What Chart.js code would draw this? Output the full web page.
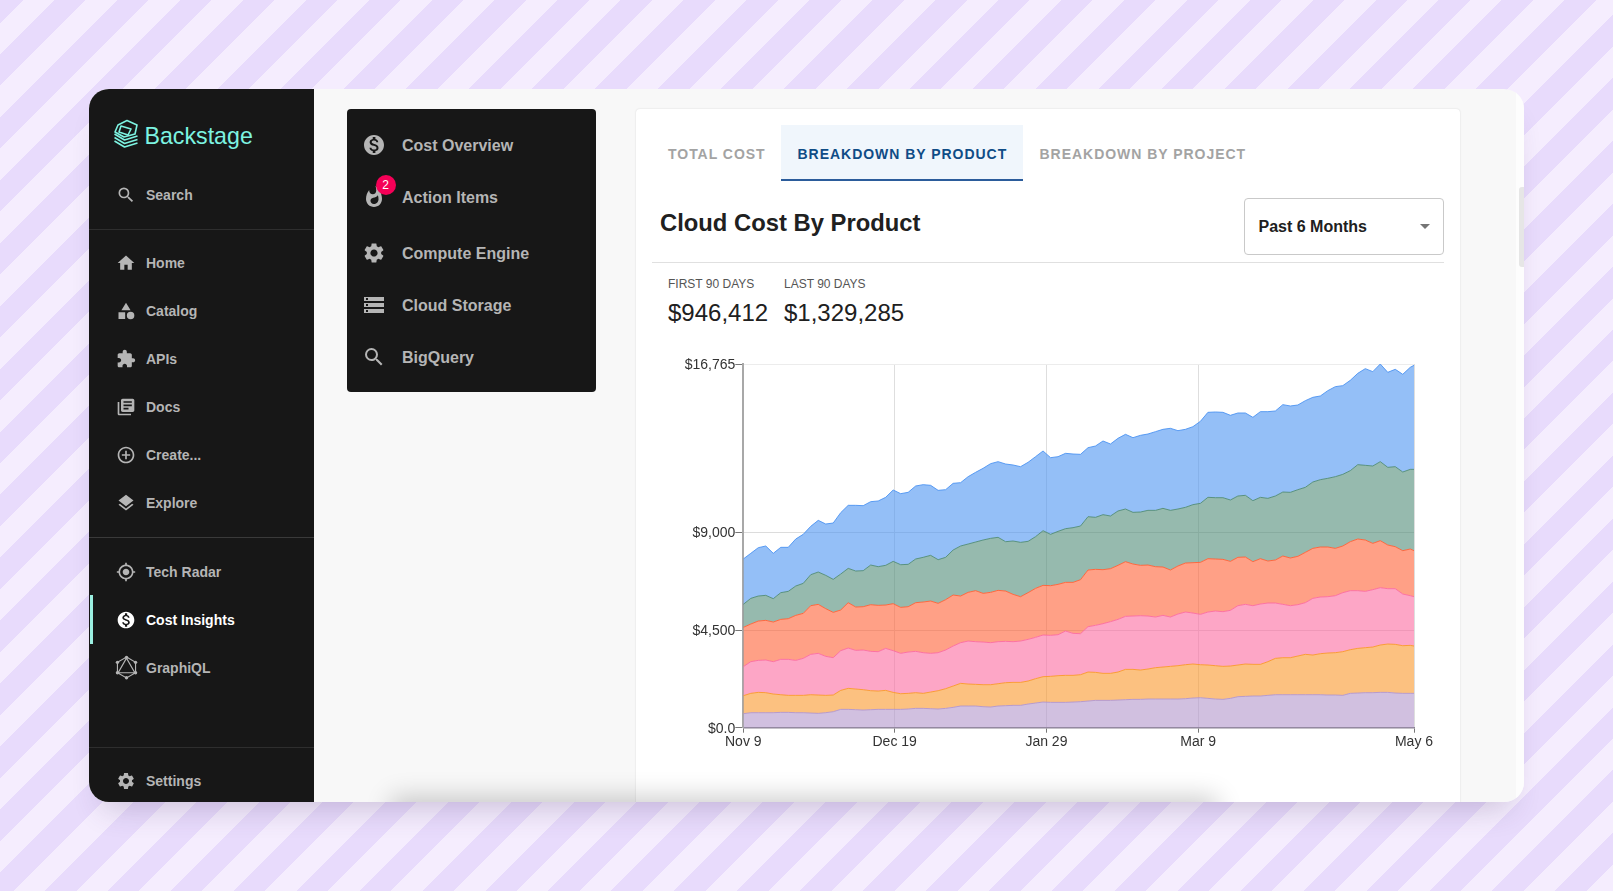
<!DOCTYPE html>
<html>
<head>
<meta charset="utf-8">
<title>Cloud Cost By Product</title>
<script src="https://cdn.jsdelivr.net/npm/chart.js@4"></script>
<style>
  html, body { margin: 0; height: 100%; overflow: hidden; }
  body {
    font-family: "Liberation Sans", Arial, sans-serif;
    background: repeating-linear-gradient(135deg, #e8dbfc 0 16.3px, #f5edfe 16.3px 38.5px, #e8dbfc 38.5px 44.5px);
  }
  .abs { position: absolute; white-space: nowrap; }
  #shadow { position: absolute; left: 89px; top: 89px; width: 1434.5px; height: 712.5px; border-radius: 20px; box-shadow: 0 20px 30px -14px rgba(70, 50, 100, .24); }
  #window { position: absolute; left: 89px; top: 89px; width: 1434.5px; height: 712.5px; border-radius: 20px; overflow: hidden; background: #f8f8f8; }
  #bar { position: absolute; left: 0; top: 0; width: 225px; height: 100%; background: #171717; }
  #fade { position: absolute; left: 310px; top: 716px; width: 810px; height: 20px; box-shadow: 0 0 26px 8px rgba(0, 0, 0, .2); z-index: 3; }
  #card { position: absolute; left: 547px; top: 20px; width: 824px; height: 720px; background: #fff; border-radius: 4px; box-shadow: 0 0 2px rgba(0,0,0,.14); }
  #sub { position: absolute; left: 258px; top: 20px; width: 249px; height: 283px; background: #171717; border-radius: 4px; }
  #track { position: absolute; left: 1427px; top: 0; width: 8px; height: 100%; background: #fdfdfd; }
  #scroll { position: absolute; left: 1429.5px; top: 98px; width: 5px; height: 80px; background: #e6e6e6; border-radius: 3px 0 0 3px; }
  .nav { font-size: 14px; font-weight: 700; color: #b5b5b5; transform: translateY(-50%); }
  .subnav { font-size: 16px; font-weight: 700; color: #b5b5b5; transform: translateY(-50%); }
  svg.icon { position: absolute; fill: #b5b5b5; }
  .tab { font-size: 14px; font-weight: 700; letter-spacing: .97px; color: #a3a3a3; transform: translateY(-50%); }
  canvas { position: absolute; left: 640px; top: 340px; }
</style>
</head>
<body>
<div id="shadow"></div>
<div id="window">
  <div id="bar"></div>
  <div id="sub"></div>
  <div id="card"></div>
  <div id="track"></div>
  <div id="scroll"></div>
  <div id="fade"></div>
</div>
<div id="ui"></div>
<div style="position:absolute;left:0;top:0;width:1613px;height:891px"><canvas id="chart" width="800" height="420" style="width:800px;height:420px"></canvas></div>

<script>
// icon paths
const ICONS = {
  search: 'M15.5 14h-.79l-.28-.27A6.471 6.471 0 0 0 16 9.5 6.5 6.5 0 1 0 9.5 16c1.61 0 3.09-.59 4.23-1.57l.27.28v.79l5 4.99L20.49 19l-4.99-5zm-6 0C7.01 14 5 11.99 5 9.5S7.01 5 9.5 5 14 7.01 14 9.5 11.99 14 9.5 14z',
  home: 'M10 20v-6h4v6h5v-8h3L12 3 2 12h3v8z',
  category: 'M12 2l-5.5 9h11zM17.5 13a4.5 4.5 0 1 0 0 9 4.5 4.5 0 0 0 0-9zM3 13.5h8v8H3z',
  puzzle: 'M20.5 11H19V7c0-1.1-.9-2-2-2h-4V3.5C13 2.12 11.88 1 10.5 1S8 2.12 8 3.5V5H4c-1.1 0-1.99.9-1.99 2v3.8H3.5c1.49 0 2.7 1.21 2.7 2.7s-1.21 2.7-2.7 2.7H2V20c0 1.1.9 2 2 2h3.8v-1.5c0-1.49 1.21-2.7 2.7-2.7 1.49 0 2.7 1.21 2.7 2.7V22H17c1.1 0 2-.9 2-2v-4h1.5c1.38 0 2.5-1.12 2.5-2.5S21.88 11 20.5 11z',
  docs: 'M4 6H2v14c0 1.1.9 2 2 2h14v-2H4V6zm16-4H8c-1.1 0-2 .9-2 2v12c0 1.1.9 2 2 2h12c1.1 0 2-.9 2-2V4c0-1.1-.9-2-2-2zm-1 9H9V9h10v2zm-4 4H9v-2h6v2zm4-8H9V5h10v2z',
  add: 'M13 7h-2v4H7v2h4v4h2v-4h4v-2h-4V7zm-1-5C6.48 2 2 6.48 2 12s4.48 10 10 10 10-4.48 10-10S17.52 2 12 2zm0 18c-4.41 0-8-3.59-8-8s3.59-8 8-8 8 3.59 8 8-3.59 8-8 8z',
  layers: 'M11.99 18.54l-7.37-5.73L3 14.07l9 7 9-7-1.63-1.27-7.38 5.74zM12 16l7.36-5.73L21 9l-9-7-9 7 1.63 1.27L12 16z',
  radar: 'M12 8c-2.21 0-4 1.79-4 4s1.79 4 4 4 4-1.79 4-4-1.79-4-4-4zm8.94 3c-.46-4.17-3.77-7.48-7.94-7.94V1h-2v2.06C6.83 3.52 3.52 6.83 3.06 11H1v2h2.06c.46 4.17 3.77 7.48 7.94 7.94V23h2v-2.06c4.17-.46 7.48-3.77 7.94-7.94H23v-2h-2.06zM12 19c-3.87 0-7-3.13-7-7s3.13-7 7-7 7 3.13 7 7-3.13 7-7 7z',
  dollar: 'M12 2C6.48 2 2 6.48 2 12s4.48 10 10 10 10-4.48 10-10S17.52 2 12 2zm1.41 16.09V20h-2.67v-1.93c-1.71-.36-3.16-1.46-3.27-3.4h1.96c.1 1.05.82 1.87 2.65 1.87 1.96 0 2.4-.98 2.4-1.59 0-.83-.44-1.61-2.67-2.14-2.48-.6-4.18-1.62-4.18-3.67 0-1.72 1.39-2.84 3.11-3.21V4h2.67v1.95c1.86.45 2.79 1.86 2.85 3.39H14.3c-.05-1.11-.64-1.87-2.22-1.87-1.5 0-2.4.68-2.4 1.64 0 .84.65 1.39 2.67 1.91s4.18 1.39 4.18 3.91c-.01 1.83-1.38 2.83-3.12 3.16z',
  graphql: 'M12 2l8.7 5v10L12 22l-8.7-5V7zM12 3L4 17h16z',
  gear: 'M19.14 12.94c.04-.3.06-.61.06-.94 0-.32-.02-.64-.07-.94l2.03-1.58c.18-.14.23-.41.12-.61l-1.92-3.32c-.12-.22-.37-.29-.59-.22l-2.39.96c-.5-.38-1.03-.7-1.62-.94l-.36-2.54c-.04-.24-.24-.41-.48-.41h-3.84c-.24 0-.43.17-.47.41l-.36 2.54c-.59.24-1.13.57-1.62.94l-2.39-.96c-.22-.08-.47 0-.59.22L2.74 8.87c-.12.21-.08.47.12.61l2.03 1.58c-.05.3-.09.63-.09.94s.02.64.07.94l-2.03 1.58c-.18.14-.23.41-.12.61l1.92 3.32c.12.22.37.29.59.22l2.39-.96c.5.38 1.03.7 1.62.94l.36 2.54c.05.24.24.41.48.41h3.84c.24 0 .44-.17.47-.41l.36-2.54c.59-.24 1.13-.56 1.62-.94l2.39.96c.22.08.47 0 .59-.22l1.92-3.32c.12-.22.07-.47-.12-.61l-2.01-1.58zM12 15.6c-1.98 0-3.6-1.62-3.6-3.6s1.62-3.6 3.6-3.6 3.6 1.62 3.6 3.6-1.62 3.6-3.6 3.6z',
  flame: 'M13.5.67s.74 2.65.74 4.8c0 2.06-1.35 3.73-3.41 3.73-2.07 0-3.63-1.67-3.63-3.73l.03-.36C5.21 7.51 4 10.62 4 14c0 4.42 3.58 8 8 8s8-3.58 8-8C20 8.61 17.41 3.8 13.5.67zM11.71 19c-1.78 0-3.22-1.4-3.22-3.14 0-1.62 1.05-2.76 2.81-3.12 1.77-.36 3.6-1.21 4.62-2.58.39 1.29.59 2.65.59 4.04 0 2.65-2.15 4.8-4.8 4.8z',
  storage: 'M2 20h20v-4H2v4zm2-3h2v2H4v-2zM2 4v4h20V4H2zm4 3H4V5h2v2zm-4 7h20v-4H2v4zm2-3h2v2H4v-2z'
};

// sidebar text: label, icon, y
const navItems = [
  ['Search', 'search', 195], ['Home', 'home', 263], ['Catalog', 'category', 311],
  ['APIs', 'puzzle', 359], ['Docs', 'docs', 407], ['Create...', 'add', 455],
  ['Explore', 'layers', 503], ['Tech Radar', 'radar', 571.5], ['Cost Insights', 'dollar', 619.5],
  ['GraphiQL', 'graphql', 667.5], ['Settings', 'gear', 781]
];
const subItems = [
  ['Cost Overview', 'dollar', 145.5], ['Action Items', 'flame', 197.5], ['Compute Engine', 'gear', 253.5],
  ['Cloud Storage', 'storage', 305.5], ['BigQuery', 'search', 357.5]
];

const ui = document.getElementById('ui');
function addText(text, x, y, cls, css) {
  const el = document.createElement('div');
  el.className = 'abs ' + (cls || '');
  el.textContent = text;
  el.style.cssText += 'left:' + x + 'px;top:' + y + 'px;' + (css || '');
  ui.appendChild(el);
  return el;
}
function addBox(x, y, w, h, css) {
  const el = document.createElement('div');
  el.style.cssText = 'position:absolute;left:' + x + 'px;top:' + y + 'px;width:' + w + 'px;height:' + h + 'px;' + css;
  ui.appendChild(el);
}
function addIcon(name, cx, cy, size, color) {
  const s = document.createElementNS('http://www.w3.org/2000/svg', 'svg');
  s.setAttribute('viewBox', '0 0 24 24');
  s.setAttribute('class', 'icon');
  s.style.cssText = 'left:' + (cx - size / 2) + 'px;top:' + (cy - size / 2) + 'px;width:' + size + 'px;height:' + size + 'px;' + (color ? 'fill:' + color : '');
  const p = document.createElementNS('http://www.w3.org/2000/svg', 'path');
  p.setAttribute('d', ICONS[name]);
  if (name === 'graphql') {
    p.setAttribute('fill', 'none'); p.setAttribute('stroke', '#b5b5b5'); p.setAttribute('stroke-width', '1.1');
    s.innerHTML = '<circle cx="12" cy="2.2" r="1.6"/><circle cx="20.7" cy="7" r="1.6"/><circle cx="20.7" cy="17" r="1.6"/><circle cx="12" cy="21.8" r="1.6"/><circle cx="3.3" cy="17" r="1.6"/><circle cx="3.3" cy="7" r="1.6"/>';
  }
  s.appendChild(p);
  ui.appendChild(s);
}

navItems.forEach(([label, icon, y]) => {
  const on = label === 'Cost Insights';
  addIcon(icon, 126, y, icon === 'graphql' ? 25 : 20, on ? '#fff' : null);
  addText(label, 146, y, 'nav', on ? 'color:#fff' : '');
});
subItems.forEach(([label, icon, y]) => {
  addIcon(icon, 374, y - 1, 24);
  addText(label, 402, y, 'subnav');
});

// logo
const logo = document.createElementNS('http://www.w3.org/2000/svg', 'svg');
logo.setAttribute('style', 'position:absolute;left:113px;top:119px;width:26px;height:31px');
logo.setAttribute('viewBox', '0 0 26 31');
logo.innerHTML = '<g fill="none" stroke="#7df3e1" stroke-width="1.6" stroke-linejoin="round"><path d="M14 1.5l10 4.5-2 9-11 3-9-5 3-7z"/><path d="M8 7l10 3-3 6-9-3z"/><path d="M1.5 15l10 6 13-4M1.5 18.5l10 6 13-4M1.5 22l10 6 13-4"/></g>';
ui.appendChild(logo);
addText('Backstage', 144.5, 136, '', 'font-size:23.2px;color:#7df3e1;transform:translateY(-50%)');

// dividers, active bar, badge
addBox(89, 229, 225, 1, 'background:#2e2e2e');
addBox(89, 537, 225, 1, 'background:#3a3a3a');
addBox(89, 746.5, 225, 1, 'background:#2e2e2e');
addBox(90, 595, 3, 49, 'background:#9bf0e1');
addBox(375.5, 175, 20, 20, 'background:#f50057;border-radius:50%');
addText('2', 385.5, 185, '', 'font-size:12px;color:#fff;transform:translate(-50%,-50%)');

// tabs
addBox(781, 125, 242, 56, 'background:#f0f6fc');
addBox(781, 179, 242, 2, 'background:#2b5c9b');
addText('TOTAL COST', 668, 153.5, 'tab');
addText('BREAKDOWN BY PRODUCT', 797.5, 153.5, 'tab', 'color:#0f4c86');
addText('BREAKDOWN BY PROJECT', 1039.5, 153.5, 'tab');

// heading row
addText('Cloud Cost By Product', 660, 223, '', 'font-size:23.8px;font-weight:700;color:#202020;transform:translateY(-50%)');
addBox(1244, 197.5, 198, 55, 'border:1px solid #c9c9c9;border-radius:4px;background:#fff');
addText('Past 6 Months', 1258.5, 226.5, '', 'font-size:16px;font-weight:700;color:#202020;transform:translateY(-50%)');
addBox(1420, 224, 0, 0, 'border-left:5px solid transparent;border-right:5px solid transparent;border-top:5px solid #757575');
addBox(652, 262, 791.5, 1, 'background:#e0e0e0');

// stats
addText('FIRST 90 DAYS', 668, 284, '', 'font-size:12px;color:#555;transform:translateY(-50%)');
addText('LAST 90 DAYS', 784, 284, '', 'font-size:12px;color:#555;transform:translateY(-50%)');
addText('$946,412', 668, 313, '', 'font-size:24px;color:#202020;transform:translateY(-50%)');
addText('$1,329,285', 784, 313, '', 'font-size:24px;color:#202020;transform:translateY(-50%)');

// chart data: day since Nov 9 and the top edge of each stacked band ($)
const days = [0,2,4,6,8,10,12,14,16,18,20,22,24,26,28,30,32,34,36,38,40,42,44,46,48,50,52,54,56,58,60,62,64,66,68,70,72,74,76,78,80,82,84,86,88,90,92,94,96,98,100,102,104,106,108,110,112,114,116,118,120,122,124,126,128,130,132,134,136,138,140,142,144,146,148,150,152,154,156,158,160,162,164,166,168,170,172,174,176,178,179];
const purpleTop = [645,692,692,692,692,707,707,692,692,676,661,692,738,845,845,830,814,830,845,845,845,845,861,891,891,876,861,891,937,999,999,999,968,953,999,1014,1030,1030,1091,1137,1183,1168,1168,1168,1183,1199,1229,1260,1260,1260,1275,1291,1306,1306,1322,1322,1322,1322,1322,1337,1368,1383,1352,1322,1306,1352,1429,1444,1460,1460,1491,1521,1521,1521,1521,1521,1521,1521,1506,1506,1491,1583,1598,1614,1614,1629,1629,1598,1583,1583,1583];
const yellowTop = [1475,1583,1629,1614,1552,1521,1491,1491,1491,1521,1506,1491,1506,1721,1813,1783,1752,1706,1690,1721,1629,1567,1583,1614,1583,1644,1706,1798,1921,2044,2013,1998,1982,1982,2028,2075,2090,2090,2151,2259,2351,2367,2397,2413,2413,2443,2566,2551,2505,2505,2566,2689,2689,2658,2705,2766,2797,2828,2858,2904,2935,2904,2889,2858,2828,2843,2889,2935,2920,2920,3043,3196,3227,3227,3304,3381,3350,3411,3442,3458,3504,3596,3657,3688,3719,3811,3857,3842,3780,3796,3765];
const pinkTop = [2812,3043,3104,3120,3043,3150,3150,3104,3196,3381,3427,3289,3227,3550,3673,3565,3581,3519,3504,3657,3550,3427,3488,3519,3458,3427,3458,3581,3765,3919,3995,3965,3949,3919,3965,3980,3965,3995,4072,4164,4272,4257,4287,4456,4349,4333,4656,4718,4795,4887,4994,5133,5148,5163,5148,5102,5179,5102,5240,5332,5286,5225,5332,5378,5348,5409,5624,5686,5624,5701,5747,5747,5686,5624,5670,5763,5962,6024,6039,6085,6224,6316,6316,6285,6362,6454,6408,6408,6162,6085,6039];
const orangeTop = [4625,4779,4917,4948,4871,4994,5025,5179,5271,5624,5686,5486,5317,5425,5763,5563,5578,5670,5640,5655,5717,5547,5578,5763,5793,5839,5732,5901,6116,6070,6239,6316,6193,6239,6331,6300,6147,6039,6224,6423,6562,6546,6608,6700,6700,6823,7269,7299,7284,7330,7484,7653,7545,7484,7499,7422,7407,7269,7453,7591,7607,7622,7791,7776,7760,7668,7853,7868,7653,7791,7684,7730,7914,7822,7899,8083,8267,8329,8329,8267,8375,8575,8698,8652,8498,8621,8421,8344,8160,8237,8160];
const greenTop = [5686,5962,6070,6101,5947,6224,6285,6531,6654,7053,7176,7023,6838,7084,7345,7222,7238,7499,7422,7484,7668,7514,7530,7776,7853,7945,7745,7853,8191,8375,8467,8559,8652,8728,8775,8575,8606,8544,8590,8805,9082,8913,9051,9174,9220,9297,9727,9697,9820,9758,9989,10081,9927,9942,10019,10019,10111,10019,10081,10158,10281,10342,10619,10603,10603,10496,10680,10711,10465,10619,10572,10680,10864,10849,10972,11080,11325,11433,11495,11571,11679,11848,12125,12094,12063,12263,12002,12032,11786,11909,11909];
const blueTop = [7776,8037,8298,8375,8037,8314,8314,8698,8913,9282,9558,9389,9435,9912,10250,10250,10234,10419,10450,10619,10957,10788,10849,11141,11203,11172,10941,10972,11264,11295,11571,11771,11956,12171,12263,12155,12109,12032,12232,12493,12755,12447,12493,12647,12616,12601,12908,12985,13216,13077,13339,13523,13369,13477,13538,13646,13753,13800,13692,13753,13876,14122,14537,14553,14537,14399,14506,14506,14307,14568,14568,14599,14891,14829,14875,15075,15229,15290,15536,15720,15767,16012,16335,16550,16412,16765,16381,16520,16289,16612,16704];

const xTickDays = [0, 40.4, 80.9, 121.4, 179];
const xTickLabels = ['Nov 9', 'Dec 19', 'Jan 29', 'Mar 9', 'May 6'];
const yTickValues = [0, 4500, 9000, 16765];
const yTickLabels = ['$0.0', '$4,500', '$9,000', '$16,765'];

function band(values, color, fill) {
  return {
    data: values.map((v, i) => ({ x: days[i], y: v })),
    borderColor: 'rgba(' + color + ',.9)',
    backgroundColor: 'rgba(' + color + ',.6)',
    borderWidth: 1,
    pointRadius: 0,
    tension: 0,
    fill: fill
  };
}

new Chart(document.getElementById('chart'), {
  type: 'line',
  data: {
    datasets: [
      band(purpleTop, '178,150,203', 'origin'),
      band(yellowTop, '250,152,43', '-1'),
      band(pinkTop, '252,107,160', '-1'),
      band(orangeTop, '255,97,53', '-1'),
      band(greenTop, '80,140,120', '-1'),
      band(blueTop, '77,148,242', '-1')
    ]
  },
  options: {
    responsive: false,
    animation: false,
    layout: { padding: { top: 24, right: 26, bottom: 0, left: 0 } },
    plugins: { legend: { display: false }, tooltip: { enabled: false } },
    scales: {
      x: {
        type: 'linear',
        min: 0,
        max: 179,
        afterFit: s => { s.height = 32.3; },
        afterBuildTicks: s => { s.ticks = xTickDays.map(v => ({ value: v })); },
        grid: { color: '#dedede', tickColor: '#777', tickLength: 5 },
        border: { color: '#8b8494', width: 1.5 },
        ticks: {
          autoSkip: false, maxRotation: 0, padding: 1,
          color: '#333', font: { family: 'Liberation Sans', size: 14 },
          callback: v => xTickLabels[xTickDays.indexOf(v)]
        }
      },
      y: {
        min: 0,
        max: 16765,
        afterFit: s => { s.width = 103.3; },
        afterBuildTicks: s => { s.ticks = yTickValues.map(v => ({ value: v })); },
        grid: { color: c => c.tick && c.tick.value === 16765 ? '#ececec' : '#dcdcdc', tickColor: '#777', tickLength: 8 },
        border: { color: '#a8a8a8', width: 2 },
        ticks: {
          autoSkip: false, padding: 0, labelOffset: 1,
          color: '#333', font: { family: 'Liberation Sans', size: 14 },
          callback: v => yTickLabels[yTickValues.indexOf(v)]
        }
      }
    }
  }
});
</script>
</body>
</html>
